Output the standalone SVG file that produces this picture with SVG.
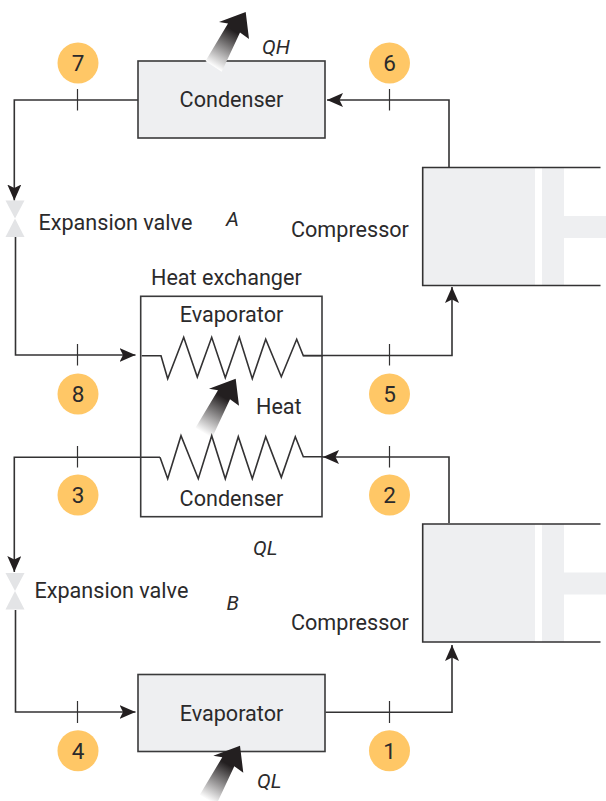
<svg xmlns="http://www.w3.org/2000/svg" width="606" height="801" viewBox="0 0 606 801">
<style>
text{font-family:Roboto,"Liberation Sans",sans-serif;font-size:21.6px;fill:#2b2a2b}
.i{font-style:italic;font-size:20.500px}
.m{text-anchor:middle}
.n{font-size:22.500px;text-anchor:middle}
.c{fill:#ffc766}
.b{fill:#eeeff1;stroke:#3a3a3b;stroke-width:1.6}
.f{fill:#eeeff1}
.l{fill:none;stroke:#333233;stroke-width:1.6}
.a{fill:none;stroke:#333233;stroke-width:1.6;marker-end:url(#h)}
.t{stroke:#333233;stroke-width:1.2}
.v{fill:#e3e4e6}
</style>
<defs>
<marker id="h" markerUnits="userSpaceOnUse" markerWidth="18" markerHeight="14" refX="16" refY="7" orient="auto">
<path d="M0 0L16 7L0 14L3.500 7Z" fill="#231f20"/>
</marker>
<linearGradient id="g" gradientUnits="userSpaceOnUse" x1="213.600" y1="66.400" x2="234" y2="31">
<stop offset="0" stop-color="#fff"/><stop offset="1" stop-color="#231f20"/>
</linearGradient>
<path id="hot" d="M205.500 61L228 23.500L219 22L245.700 12L249 39L240 32.500L221.700 71.700Z" fill="url(#g)"/>
<g id="valve"><path class="v" d="M5.500 0H24.500L15 18Z"/><path class="v" d="M15 18L24.500 36.500H5.500Z"/></g>
<g id="comp">
<path class="f" d="M423 0H535V118H423ZM542 0H564V48.500H606V70.500H564V118H542Z"/>
<path class="l" d="M600.500 0H422.700V118H600.500"/>
</g>
</defs>
<g id="connectors">
<path class="a" d="M138 100H14.300V200.500"/>
<path class="a" d="M449 167V100H327"/>
<path class="a" d="M15.500 237V355H135.500"/>
<path class="a" d="M303 355.500H452V287"/>
<path class="a" d="M160 457.300H14.300V572"/>
<path class="a" d="M449 523V457H323"/>
<path class="a" d="M15.500 610V712H135.500"/>
<path class="a" d="M325.500 712.300H452V645"/>
<path class="t" d="M77.500 89V110.500M389.500 89V110.500M77.500 344V365.500M389.500 344V365.500M77.500 446V467.500M389.500 446V467.500M77.500 701V723M389.500 701V723"/>
</g>
<g id="condenser-top"><rect class="b" x="138" y="61" width="187" height="77"/><text class="m" x="231.500" y="106.500">Condenser</text></g>
<use href="#hot"/>
<text class="i" x="262" y="54">QH</text>
<g id="circle-7"><circle class="c" cx="78" cy="63" r="20.500"/><text class="n" x="78" y="71">7</text></g>
<g id="circle-6"><circle class="c" cx="389.500" cy="63" r="20.500"/><text class="n" x="389.500" y="71">6</text></g>
<g id="valve-a"><use href="#valve" y="200.500"/><text x="38.500" y="230">Expansion valve</text></g>
<text class="i" x="226" y="226">A</text>
<g id="compressor-a"><use href="#comp" y="167.500"/><text x="291" y="237">Compressor</text></g>
<g id="heat-exchanger">
<text x="151" y="285">Heat exchanger</text>
<rect x="140.700" y="296.300" width="181.300" height="220.400" fill="none" stroke="#3a3a3b" stroke-width="1.600"/>
<text class="m" x="231.500" y="322">Evaporator</text>
<path class="l" d="M141.700 355.700H161L167.700 378.700L183.700 337.300L197.300 377L211.700 337.300L225.300 377.700L239.300 337.300L252.300 378.700L265.700 339.300L281.300 376.700L296.700 339.300L303.300 355.700H323"/>
<use href="#hot" x="-10" y="366.700"/>
<text x="256" y="414">Heat</text>
<path class="l" d="M160 457.300L167.700 478.700L181 435.700L198.300 478.700L211.700 435.700L225.300 478.700L238.300 436.700L252.300 478.700L265.700 436.700L281.300 477.300L295.300 436.700L303.300 456.700H323"/>
<text class="m" x="231.500" y="505.500">Condenser</text>
</g>
<g id="circle-8"><circle class="c" cx="78" cy="394" r="20.500"/><text class="n" x="78" y="402">8</text></g>
<g id="circle-5"><circle class="c" cx="389.500" cy="394" r="20.500"/><text class="n" x="389.500" y="402">5</text></g>
<g id="circle-3"><circle class="c" cx="78" cy="495" r="20.500"/><text class="n" x="78" y="503">3</text></g>
<g id="circle-2"><circle class="c" cx="389.500" cy="495" r="20.500"/><text class="n" x="389.500" y="503">2</text></g>
<text class="i" x="253" y="555">QL</text>
<g id="valve-b"><use href="#valve" y="573"/><text x="34.500" y="598">Expansion valve</text></g>
<text class="i" x="226.500" y="609.500">B</text>
<g id="compressor-b"><use href="#comp" y="524"/><text x="291" y="630">Compressor</text></g>
<g id="evaporator-bottom"><rect class="b" x="138" y="674.500" width="187" height="77"/><text class="m" x="231.500" y="721">Evaporator</text></g>
<use href="#hot" x="-5.700" y="733.700"/>
<text class="i" x="257" y="788">QL</text>
<g id="circle-4"><circle class="c" cx="78" cy="750.700" r="20.500"/><text class="n" x="78" y="758.500">4</text></g>
<g id="circle-1"><circle class="c" cx="389.500" cy="750.700" r="20.500"/><text class="n" x="389.500" y="758.500">1</text></g>
</svg>
